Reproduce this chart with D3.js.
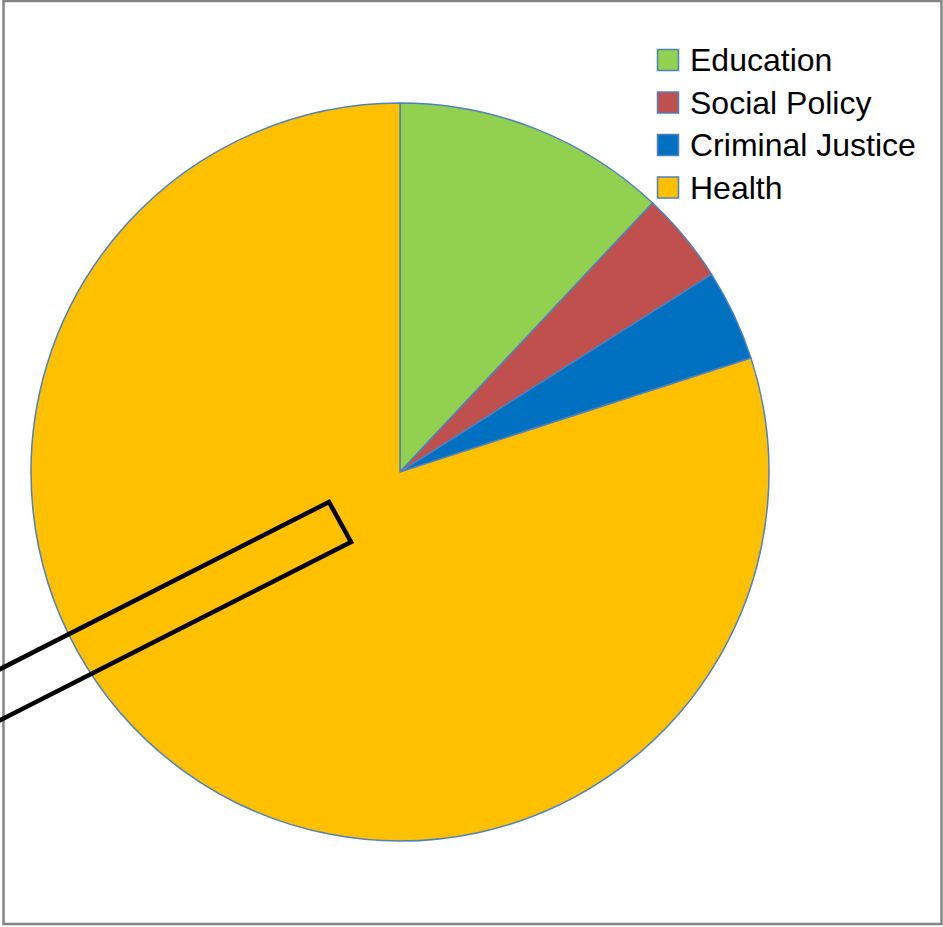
<!DOCTYPE html>
<html>
<head>
<meta charset="utf-8">
<script src="https://cdn.jsdelivr.net/npm/d3@7"></script>
<style>
  body { margin: 0; background: #fff; }
  svg { display: block; }
  text { font-family: "Liberation Sans", Arial, sans-serif; }
</style>
</head>
<body>
<svg id="chart" width="943" height="927"></svg>
<script>
var categories = ["Education", "Social Policy", "Criminal Justice", "Health"];
var values = [12, 4, 4, 80];
var colors = ["#92d050", "#c0504d", "#0070c0", "#ffc000"];

var W = 943, H = 927;
var CX = 400, CY = 472, R = 369;
var EDGE = "#4f81bd";

var svg = d3.select("#chart");

// outer frame
svg.append("rect")
  .attr("x", 3.5).attr("y", 1)
  .attr("width", 938).attr("height", 923)
  .attr("fill", "#fff")
  .attr("stroke", "#858585")
  .attr("stroke-width", 2.5);

var color = d3.scaleOrdinal().domain(categories).range(colors);

var pie = d3.pie().sort(null).value(function(d) { return d.v; });
var arc = d3.arc().innerRadius(0).outerRadius(R);

var data = categories.map(function(c, i) { return {name: c, v: values[i]}; });

svg.append("g")
  .attr("transform", "translate(" + CX + "," + CY + ")")
  .selectAll("path")
  .data(pie(data))
  .join("path")
    .attr("d", arc)
    .attr("fill", function(d) { return color(d.data.name); })
    .attr("stroke", EDGE)
    .attr("stroke-width", 1.5)
    .attr("stroke-linejoin", "round");

// black outlined callout box over the pie
var box = [[329, 502], [351, 542], [-90, 766], [-112, 726]];
svg.append("polygon")
  .attr("points", box.map(function(p) { return p.join(","); }).join(" "))
  .attr("fill", "none")
  .attr("stroke", "#000")
  .attr("stroke-width", 4.5)
  .attr("stroke-linejoin", "miter");

// legend
var legend = svg.append("g").attr("transform", "translate(657,49)");
var row = legend.selectAll("g")
  .data(categories)
  .join("g")
    .attr("transform", function(d, i) { return "translate(0," + (i * 42.5) + ")"; });

row.append("rect")
  .attr("x", 0.5).attr("y", 0.5)
  .attr("width", 21).attr("height", 21)
  .attr("fill", function(d) { return color(d); })
  .attr("stroke", EDGE)
  .attr("stroke-width", 1.5);

row.append("text")
  .attr("x", 33).attr("y", 22)
  .attr("font-size", 32)
  .attr("fill", "#000")
  .text(function(d) { return d; });
</script>
</body>
</html>
